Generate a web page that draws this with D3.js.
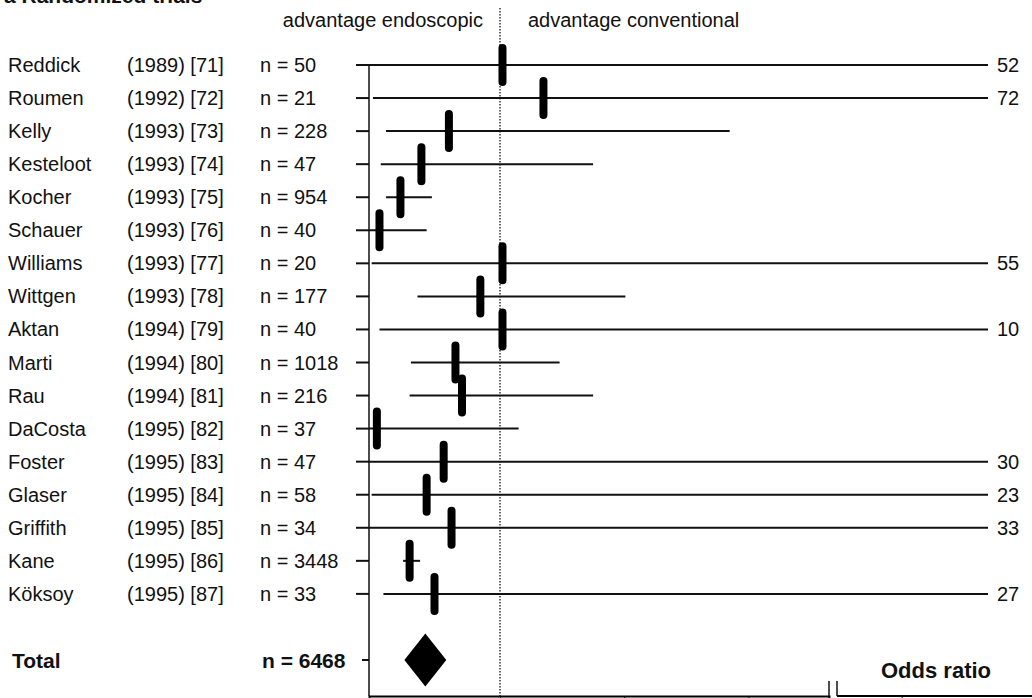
<!DOCTYPE html>
<html>
<head>
<meta charset="utf-8">
<script src="https://d3js.org/d3.v7.min.js"></script>
<style>
  body { margin: 0; background: #fff; }
  text { font-family: "Liberation Sans", Arial, sans-serif; fill: #111; }
</style>
</head>
<body>
<script>
  // study data
  var studies = ["Reddick", "Roumen", "Kelly", "Kesteloot", "Kocher", "Schauer", "Williams", "Wittgen",
    "Aktan", "Marti", "Rau", "DaCosta", "Foster", "Glaser", "Griffith", "Kane", "Köksoy"];
  var years = ["(1989) [71]", "(1992) [72]", "(1993) [73]", "(1993) [74]", "(1993) [75]", "(1993) [76]",
    "(1993) [77]", "(1993) [78]", "(1994) [79]", "(1994) [80]", "(1994) [81]", "(1995) [82]",
    "(1995) [83]", "(1995) [84]", "(1995) [85]", "(1995) [86]", "(1995) [87]"];
  var sampleSizes = [50, 21, 228, 47, 954, 40, 20, 177, 40, 1018, 216, 37, 47, 58, 34, 3448, 33];
  var oddsRatio = [1.02, 1.35, 0.61, 0.40, 0.24, 0.08, 1.02, 0.85, 1.02, 0.66, 0.71, 0.06, 0.57, 0.44, 0.63, 0.31, 0.50];
  var ciLower = [0, 0.03, 0.13, 0.09, 0.13, 0, 0.02, 0.37, 0.08, 0.32, 0.31, 0, 0, 0.02, 0, 0.26, 0.11];
  var ciUpper = [52, 72, 2.85, 1.75, 0.48, 0.44, 55, 2.01, 10, 1.48, 1.75, 1.15, 30, 23, 33, 0.39, 27];

  var totalN = 6468;
  var totalOR = [0.27, 0.43, 0.59]; // lower, estimate, upper

  var axisTicks = [1, 2, 3];
  var tailTicks = [5];

  var width = 1032, height = 698;
  var svg = d3.select("body").append("svg")
    .attr("width", width)
    .attr("height", height);

  // x scale is broken: main part up to the break, then a short tail
  var x = d3.scaleLinear().domain([0, 1, 3.65]).range([369, 500, 829]);
  var xTail = d3.scaleLinear().domain([4.55, 5.6]).range([837, 988]);
  var xMax = 5.6;
  var rightEnd = xTail(xMax);

  function xPos(v) {
    if (v <= 3.65) return x(v);
    return Math.min(xTail(Math.max(v, 4.55)), rightEnd);
  }

  // rows
  var y = d3.scaleLinear().domain([0, 18]).range([65, 660]);
  var axisY = 696;

  // title (cut off at the top in the original)
  svg.append("text")
    .attr("x", 4).attr("y", 3)
    .style("font-size", "21px").style("font-weight", "bold")
    .text("a  Randomized trials");

  // headers
  svg.append("text")
    .attr("x", 483).attr("y", 27)
    .attr("text-anchor", "end")
    .style("font-size", "20px")
    .text("advantage endoscopic");
  svg.append("text")
    .attr("x", 528).attr("y", 27)
    .style("font-size", "20px")
    .text("advantage conventional");

  // line of no effect
  svg.append("line")
    .attr("x1", x(1)).attr("x2", x(1))
    .attr("y1", 8).attr("y2", height)
    .attr("stroke", "#000")
    .attr("stroke-width", 1.2)
    .attr("stroke-dasharray", "1.5,1.5");

  // left vertical axis
  svg.append("line")
    .attr("x1", x(0)).attr("x2", x(0))
    .attr("y1", y(0)).attr("y2", axisY)
    .attr("stroke", "#111").attr("stroke-width", 1.5);

  // bottom axis, main part (tick labels fall below the picture in the original)
  var axisMain = svg.append("g")
    .attr("transform", "translate(0," + axisY + ")")
    .call(d3.axisBottom(x).tickValues(axisTicks).tickSizeOuter(0).tickSize(6).tickFormat(""));
  axisMain.select(".domain").attr("stroke-width", 2);

  var axisTail = svg.append("g")
    .attr("transform", "translate(0," + axisY + ")")
    .call(d3.axisBottom(xTail).tickValues(tailTicks).tickSizeOuter(0).tickSize(6).tickFormat(""));
  axisTail.select(".domain").attr("stroke-width", 2)
    .attr("d", "M" + xTail(4.55) + ",0H" + width);

  // break marks
  [x(3.65), xTail(4.55)].forEach(function(bx) {
    svg.append("line")
      .attr("x1", bx).attr("x2", bx)
      .attr("y1", 681).attr("y2", axisY)
      .attr("stroke", "#111").attr("stroke-width", 1.5);
  });

  svg.append("text")
    .attr("x", 881).attr("y", 678)
    .style("font-size", "22px").style("font-weight", "bold")
    .text("Odds ratio");

  // study rows
  var rows = svg.selectAll("g.row")
    .data(studies)
    .enter().append("g")
    .attr("class", "row");

  rows.append("text")
    .attr("x", 8).attr("y", function(d, i) { return y(i) + 7; })
    .style("font-size", "20px")
    .text(function(d) { return d; });

  rows.append("text")
    .attr("x", 127).attr("y", function(d, i) { return y(i) + 7; })
    .style("font-size", "20px")
    .text(function(d, i) { return years[i]; });

  rows.append("text")
    .attr("x", 260).attr("y", function(d, i) { return y(i) + 7; })
    .style("font-size", "20px")
    .text(function(d, i) { return "n = " + sampleSizes[i]; });

  // row ticks
  rows.append("line")
    .attr("x1", 356).attr("x2", x(0))
    .attr("y1", function(d, i) { return y(i); })
    .attr("y2", function(d, i) { return y(i); })
    .attr("stroke", "#111").attr("stroke-width", 2);

  // confidence intervals
  rows.append("line")
    .attr("x1", function(d, i) { return xPos(ciLower[i]); })
    .attr("x2", function(d, i) { return xPos(ciUpper[i]); })
    .attr("y1", function(d, i) { return y(i); })
    .attr("y2", function(d, i) { return y(i); })
    .attr("stroke", "#111").attr("stroke-width", 2);

  // truncated upper limits
  rows.filter(function(d, i) { return ciUpper[i] > xMax; })
    .append("text")
    .attr("x", rightEnd + 9)
    .attr("y", function(d) { return y(studies.indexOf(d)) + 7; })
    .style("font-size", "20px")
    .text(function(d) { return ciUpper[studies.indexOf(d)]; });

  // point estimates
  var barW = 8, barH = 42;
  rows.append("rect")
    .attr("x", function(d, i) { return xPos(oddsRatio[i]) - barW / 2; })
    .attr("y", function(d, i) { return y(i) - barH / 2; })
    .attr("width", barW).attr("height", barH)
    .attr("rx", 4).attr("ry", 4)
    .attr("fill", "#000");

  // total row
  var totalY = y(18);
  svg.append("text")
    .attr("x", 12).attr("y", totalY + 8)
    .style("font-size", "21px").style("font-weight", "bold")
    .text("Total");
  svg.append("text")
    .attr("x", 262).attr("y", totalY + 8)
    .style("font-size", "21px").style("font-weight", "bold")
    .text("n = " + totalN);
  svg.append("line")
    .attr("x1", 362).attr("x2", x(0))
    .attr("y1", totalY).attr("y2", totalY)
    .attr("stroke", "#111").attr("stroke-width", 2);

  var dh = 26.5;
  svg.append("path")
    .attr("d", "M" + x(totalOR[0]) + "," + totalY +
      "L" + x(totalOR[1]) + "," + (totalY - dh) +
      "L" + x(totalOR[2]) + "," + totalY +
      "L" + x(totalOR[1]) + "," + (totalY + dh) + "Z")
    .attr("fill", "#000");
</script>
</body>
</html>
